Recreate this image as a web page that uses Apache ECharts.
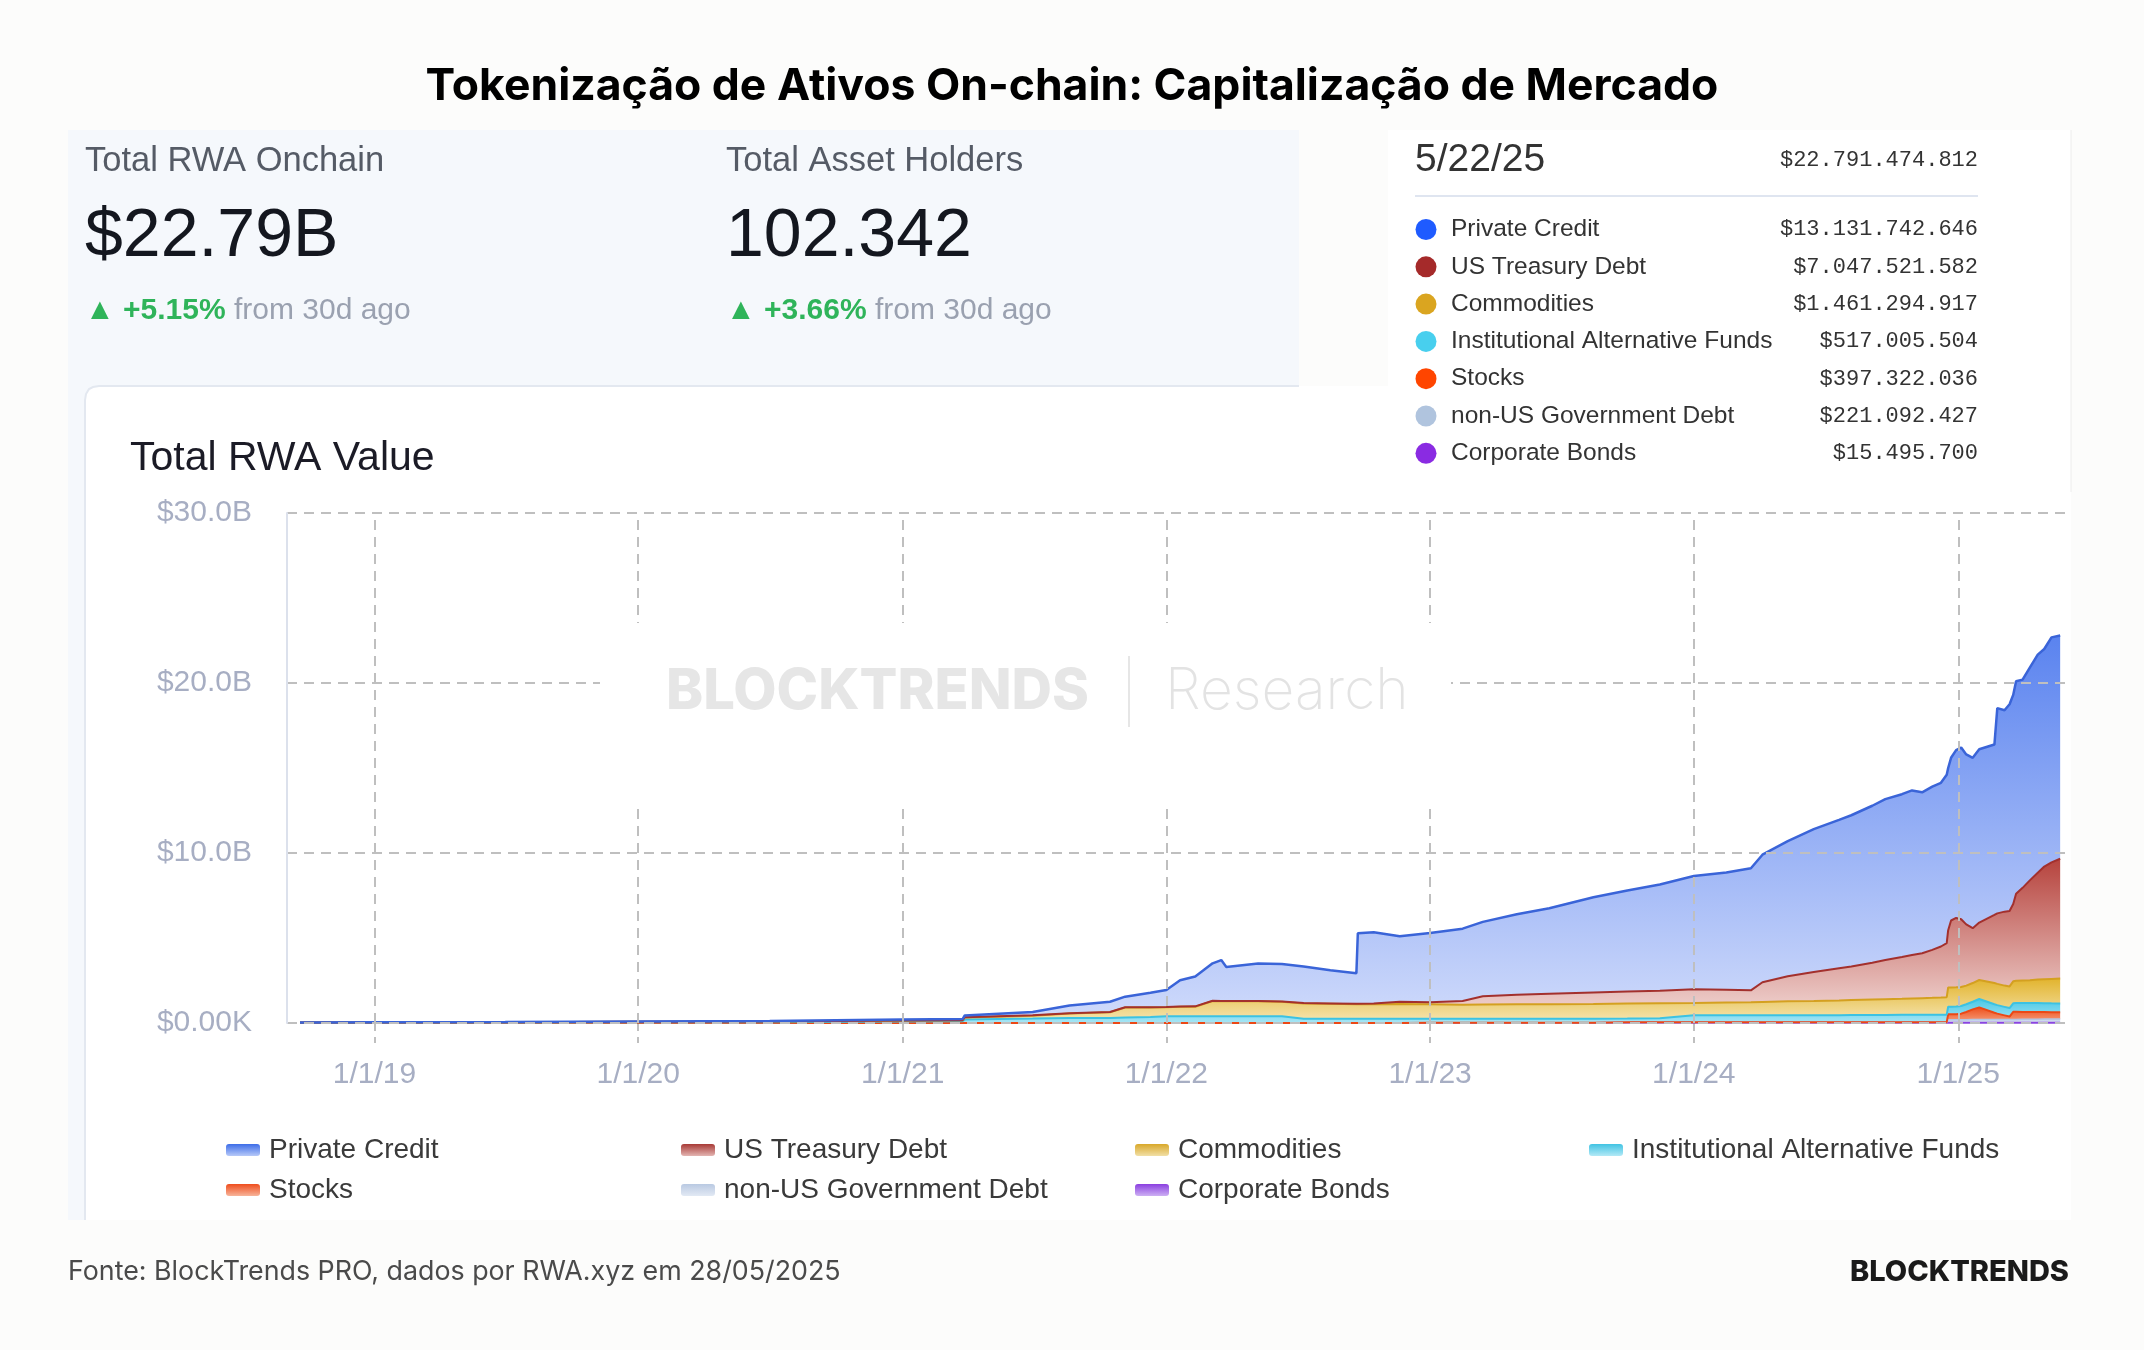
<!DOCTYPE html>
<html>
<head>
<meta charset="utf-8">
<title>Tokenização de Ativos On-chain</title>
<script src="https://cdn.jsdelivr.net/npm/echarts@6/dist/echarts.min.js"></script>
<style>
  html, body { margin: 0; padding: 0; background: #fcfcfb; }
  #main { width: 2144px; height: 1350px; }
</style>
</head>
<body>
<div id="main"></div>
<script>
// datas das amostras
var dates = [
  '2018-09-20','2019-01-01','2019-07-01','2020-01-01','2020-07-01','2020-12-31','2021-03-25','2021-03-28','2021-06-30','2021-08-20',
  '2021-10-15','2021-11-05','2021-12-10','2022-01-01','2022-01-20','2022-02-10','2022-03-06','2022-03-18','2022-03-25','2022-05-08',
  '2022-06-10','2022-07-10','2022-08-16','2022-09-21','2022-09-23','2022-10-15','2022-11-20','2023-01-01','2023-02-15','2023-03-15',
  '2023-05-01','2023-06-15','2023-08-15','2023-10-01','2023-11-15','2024-01-01','2024-02-15','2024-03-20','2024-04-05','2024-05-10',
  '2024-06-15','2024-07-20','2024-08-06','2024-09-04','2024-09-22','2024-10-15','2024-10-29','2024-11-12','2024-11-26','2024-12-08',
  '2024-12-16','2024-12-18','2024-12-22','2024-12-29','2025-01-05','2025-01-12','2025-01-21','2025-01-30','2025-02-20','2025-02-24',
  '2025-03-06','2025-03-13','2025-03-18','2025-03-22','2025-03-31','2025-04-10','2025-04-21','2025-04-30','2025-05-10','2025-05-22'
];

// valores em US$ bilhões (cada camada, não acumulado)
var privateCredit = [
  0, 0.01, 0.01, 0.02, 0.03, 0.06, 0.07, 0.10, 0.20, 0.45,
  0.60, 0.62, 0.85, 1.00, 1.55, 1.75, 2.20, 2.40, 2.00, 2.20,
  2.20, 2.15, 1.95, 1.80, 4.15, 4.20, 3.85, 4.08, 4.25, 4.38,
  4.74, 5.03, 5.60, 5.95, 6.25, 6.67, 6.90, 7.18, 7.50, 7.95,
  8.40, 8.73, 8.90, 9.23, 9.47, 9.58, 9.68, 9.47, 9.60, 9.63,
  9.90, 9.54, 9.57, 9.87, 10.10, 10.00, 10.02, 10.19, 10.02, 12.07,
  11.85, 12.16, 12.30, 12.50, 12.25, 12.51, 12.83, 12.80, 13.24, 13.132
];
var usTreasury = [
  0, 0, 0, 0, 0, 0, 0, 0.02, 0.02, 0.02,
  0.02, 0.02, 0.02, 0.02, 0.02, 0.02, 0.02, 0.02, 0.02, 0.02,
  0.02, 0.02, 0.02, 0.02, 0.02, 0.04, 0.13, 0.12, 0.22, 0.48,
  0.56, 0.61, 0.68, 0.71, 0.74, 0.81, 0.75, 0.70, 1.16, 1.47,
  1.70, 1.89, 1.97, 2.17, 2.30, 2.46, 2.56, 2.64, 2.82, 3.00,
  3.18, 3.37, 3.94, 4.08, 3.98, 3.60, 3.23, 3.38, 4.01, 4.15,
  4.35, 4.44, 4.55, 5.12, 5.45, 5.87, 6.28, 6.62, 6.85, 7.048
];
var commodities = [
  0.01, 0.01, 0.02, 0.03, 0.04, 0.05, 0.06, 0.12, 0.17, 0.26,
  0.33, 0.58, 0.56, 0.52, 0.55, 0.56, 0.89, 0.88, 0.88, 0.88,
  0.85, 0.90, 0.88, 0.86, 0.86, 0.85, 0.87, 0.85, 0.83, 0.84,
  0.85, 0.86, 0.87, 0.88, 0.88, 0.72, 0.75, 0.77, 0.79, 0.82,
  0.84, 0.87, 0.88, 0.91, 0.93, 0.94, 0.96, 0.98, 0.99, 1.01,
  1.03, 1.13, 1.13, 1.13, 1.12, 1.10, 1.10, 1.12, 1.25, 1.25,
  1.25, 1.27, 1.29, 1.30, 1.32, 1.34, 1.39, 1.42, 1.44, 1.461
];
var altFunds = [
  0.02, 0.03, 0.03, 0.04, 0.05, 0.09, 0.10, 0.20, 0.26, 0.30,
  0.30, 0.33, 0.35, 0.40, 0.40, 0.40, 0.40, 0.40, 0.40, 0.40,
  0.40, 0.25, 0.25, 0.25, 0.25, 0.25, 0.25, 0.23, 0.23, 0.23,
  0.23, 0.23, 0.23, 0.22, 0.24, 0.40, 0.40, 0.40, 0.40, 0.41,
  0.41, 0.41, 0.42, 0.42, 0.42, 0.43, 0.43, 0.43, 0.44, 0.44,
  0.44, 0.45, 0.45, 0.45, 0.45, 0.45, 0.45, 0.49, 0.50, 0.50,
  0.50, 0.50, 0.50, 0.52, 0.53, 0.53, 0.53, 0.52, 0.52, 0.517
];
var stocks = [
  0, 0, 0, 0, 0, 0, 0, 0, 0, 0,
  0, 0, 0, 0, 0, 0, 0, 0, 0, 0,
  0, 0, 0, 0, 0, 0, 0, 0.02, 0.02, 0.02,
  0.02, 0.02, 0.02, 0.02, 0.02, 0.02, 0.02, 0.02, 0.02, 0.02,
  0.02, 0.02, 0.02, 0.02, 0.02, 0.02, 0.02, 0.02, 0.02, 0.02,
  0.02, 0.32, 0.32, 0.33, 0.36, 0.46, 0.60, 0.72, 0.39, 0.34,
  0.24, 0.17, 0.45, 0.45, 0.43, 0.43, 0.42, 0.405, 0.40, 0.397
];
var nonUsDebt = [
  0, 0, 0, 0, 0, 0, 0, 0, 0, 0,
  0, 0, 0, 0, 0, 0, 0, 0, 0, 0,
  0, 0, 0, 0, 0, 0, 0, 0, 0, 0,
  0, 0, 0, 0.01, 0.01, 0.02, 0.02, 0.02, 0.02, 0.02,
  0.02, 0.02, 0.02, 0.02, 0.02, 0.02, 0.02, 0.02, 0.02, 0.02,
  0.02, 0.18, 0.18, 0.18, 0.18, 0.18, 0.19, 0.19, 0.20, 0.20,
  0.20, 0.20, 0.20, 0.20, 0.21, 0.21, 0.21, 0.22, 0.22, 0.221
];
var corpBonds = [
  0, 0, 0, 0, 0, 0, 0, 0, 0, 0,
  0, 0, 0, 0, 0, 0, 0, 0, 0, 0,
  0, 0, 0, 0, 0, 0, 0, 0, 0, 0,
  0, 0, 0, 0.01, 0.01, 0.01, 0.01, 0.01, 0.01, 0.01,
  0.01, 0.01, 0.01, 0.01, 0.01, 0.01, 0.01, 0.01, 0.01, 0.01,
  0.01, 0.01, 0.01, 0.01, 0.01, 0.01, 0.01, 0.01, 0.01, 0.01,
  0.01, 0.01, 0.01, 0.01, 0.01, 0.01, 0.01, 0.015, 0.015, 0.0155
];

var yTicks = [0, 10, 20, 30];
var yearTicks = ['2019-01-01', '2020-01-01', '2021-01-01', '2022-01-01', '2023-01-01', '2024-01-01', '2025-01-01'];

// caixa "tooltip" fixa de 5/22/25
var tooltipDate = '5/22/25';
var tooltipTotal = '$22.791.474.812';
var legendOrder = ['Private Credit', 'US Treasury Debt', 'Commodities', 'Institutional Alternative Funds', 'Stocks', 'non-US Government Debt', 'Corporate Bonds'];
var tooltipValues = ['$13.131.742.646', '$7.047.521.582', '$1.461.294.917', '$517.005.504', '$397.322.036', '$221.092.427', '$15.495.700'];

// ordem de empilhamento (de baixo para cima)
var stackOrder = ['Corporate Bonds', 'non-US Government Debt', 'Stocks', 'Institutional Alternative Funds', 'Commodities', 'US Treasury Debt', 'Private Credit'];
var seriesValues = {
  'Private Credit': privateCredit,
  'US Treasury Debt': usTreasury,
  'Commodities': commodities,
  'Institutional Alternative Funds': altFunds,
  'Stocks': stocks,
  'non-US Government Debt': nonUsDebt,
  'Corporate Bonds': corpBonds
};

var look = {
  'Private Credit':                  { line: '#3a64d8', top: '#5a83ef', bottom: '#d0dbfb', width: 2.5, dot: '#1f5bff', icon: ['#3d6de8', '#b7c9f8'] },
  'US Treasury Debt':                { line: '#a3302d', top: '#b6433d', bottom: '#f3dcd9', width: 2,   dot: '#a52a2a', icon: ['#a83a36', '#e3b5b2'] },
  'Commodities':                     { line: '#d4a020', top: '#e2b42e', bottom: '#f6e6b4', width: 2,   dot: '#daa520', icon: ['#d9a82a', '#f1dfa6'] },
  'Institutional Alternative Funds': { line: '#3cc2e2', top: '#4ac8e6', bottom: '#a8e6f5', width: 2,   dot: '#48cfee', icon: ['#41c3e3', '#b3e9f6'] },
  'Stocks':                          { line: '#ec4815', top: '#ee4f1c', bottom: '#f6a281', width: 2,   dot: '#ff4500', icon: ['#ef4d1d', '#f7b49a'] },
  'non-US Government Debt':          { line: '#b4c6e2', top: '#bfcfe8', bottom: '#e2e9f4', width: 1.5, dot: '#b0c4de', icon: ['#b9c9e2', '#e2e9f4'] },
  'Corporate Bonds':                 { line: '#8a45e0', top: '#9b63e8', bottom: '#c9aef3', width: 2,   dot: '#8a2be2', icon: ['#8b3fe0', '#cdb0f3'] }
};

function grad(a, b) {
  return new echarts.graphic.LinearGradient(0, 0, 0, 1, [{ offset: 0, color: a }, { offset: 1, color: b }]);
}

var chart = echarts.init(document.getElementById('main'));

var sansFont = '"Liberation Sans", Arial, sans-serif';
var monoFont = '"Liberation Mono", "DejaVu Sans Mono", monospace';
var gridStroke = { color: '#bfbfbf', width: 2, type: [10, 7] };

var series = stackOrder.map(function (name) {
  var st = look[name];
  var vals = seriesValues[name];
  return {
    name: name,
    type: 'line',
    stack: 'total',
    symbol: 'none',
    showSymbol: false,
    lineStyle: { color: st.line, width: st.width },
    itemStyle: { color: st.line },
    areaStyle: { color: grad(st.top, st.bottom), opacity: 1 },
    emphasis: { disabled: true },
    silent: true,
    data: dates.map(function (d, i) { return [d, vals[i]]; })
  };
});

// linhas verticais de ano por cima das áreas
series[series.length - 1].markLine = {
  silent: true,
  symbol: ['none', 'none'],
  label: { show: false },
  lineStyle: gridStroke,
  emphasis: { disabled: true },
  data: yearTicks.map(function (d) { return { xAxis: +echarts.time.parse(d) }; })
};

// legenda em 4 colunas
var legendCols = [
  { left: 226, names: ['Private Credit', 'Stocks'] },
  { left: 681, names: ['US Treasury Debt', 'non-US Government Debt'] },
  { left: 1135, names: ['Commodities', 'Corporate Bonds'] },
  { left: 1589, names: ['Institutional Alternative Funds'] }
];
var legends = legendCols.map(function (col) {
  return {
    orient: 'vertical',
    left: col.left,
    top: 1135,
    padding: 0,
    itemGap: 10,
    itemWidth: 34,
    itemHeight: 12,
    icon: 'roundRect',
    selectedMode: false,
    itemStyle: { borderWidth: 0 },
    textStyle: { fontFamily: sansFont, fontSize: 28, lineHeight: 30, color: '#3a3a3a', padding: [0, 0, 0, 4] },
    data: col.names.map(function (n) {
      return { name: n, itemStyle: { color: grad(look[n].icon[0], look[n].icon[1]) } };
    })
  };
});

// elementos fixos: fundos, textos, caixa de valores, marca d'água
var g = [];
g.push({ type: 'rect', z: -10, silent: true, shape: { x: 68, y: 130, width: 1231, height: 1090 }, style: { fill: '#f5f8fc' } });
g.push({ type: 'rect', z: -9, silent: true, shape: { x: 85, y: 386, width: 1986, height: 834, r: [14, 0, 0, 0] }, style: { fill: '#ffffff' } });
g.push({ type: 'polyline', z: -8, silent: true, shape: { points: [[85, 1220], [85, 400], [86, 394], [89, 389], [93, 387], [99, 386], [1299, 386]] }, style: { fill: null, stroke: '#e3e8f0', lineWidth: 2 } });
g.push({ type: 'rect', z: -7, silent: true, shape: { x: 1388, y: 130, width: 683, height: 362 }, style: { fill: '#ffffff' } });
g.push({ type: 'line', z: -7, silent: true, shape: { x1: 2071, y1: 130, x2: 2071, y2: 492 }, style: { stroke: '#ececec', lineWidth: 1 } });

function txt(x, y, text, font, fill, align, extra) {
  var el = {
    type: 'text', x: x, y: y, silent: true, z: 20,
    style: { text: text, font: font, fill: fill, textAlign: align || 'left', align: align || 'left', textVerticalAlign: 'middle', verticalAlign: 'middle' }
  };
  if (extra) { for (var k in extra) el.style[k] = extra[k]; }
  return el;
}

// título
g.push(txt(1072, 87, 'Tokenização de Ativos On-chain: Capitalização de Mercado', '700 44.5px Inter', '#000000', 'center'));

// painel de estatísticas
var stats = [
  { x: 85, label: 'Total RWA Onchain', value: '$22.79B', change: '▲ +5.15%' },
  { x: 726, label: 'Total Asset Holders', value: '102.342', change: '▲ +3.66%' }
];
stats.forEach(function (s) {
  g.push(txt(s.x, 161, s.label, '34.5px ' + sansFont, '#555b66'));
  g.push(txt(s.x, 237, s.value, '68px ' + sansFont, '#14171f'));
  g.push(txt(s.x, 311, '{g|' + s.change + '} {s|from 30d ago}', '30px ' + sansFont, '#9aa1b0', 'left', {
    rich: {
      g: { fill: '#2fb45a', font: '600 30px ' + sansFont },
      s: { fill: '#9aa1b0', font: '30px ' + sansFont }
    }
  }));
});

// caixa de valores na data
g.push(txt(1415, 160, tooltipDate, '39px ' + sansFont, '#333333'));
g.push(txt(1978, 160, tooltipTotal, '22px ' + monoFont, '#333333', 'right'));
g.push({ type: 'line', z: 20, silent: true, shape: { x1: 1415, y1: 196, x2: 1978, y2: 196 }, style: { stroke: '#dfe5f0', lineWidth: 2 } });
legendOrder.forEach(function (n, i) {
  var y = 229.5 + i * 37.3;
  g.push({ type: 'circle', z: 20, silent: true, shape: { cx: 1426, cy: y, r: 10.5 }, style: { fill: look[n].dot } });
  g.push(txt(1451, y, n, '24.5px ' + sansFont, '#333333'));
  g.push(txt(1978, y, tooltipValues[i], '22px ' + monoFont, '#333333', 'right'));
});

// título do gráfico
g.push(txt(130, 459, 'Total RWA Value', '41px ' + sansFont, '#1b1b26'));

// marca d'água com fundo branco (interrompe as grades)
g.push({ type: 'rect', z: 50, silent: true, shape: { x: 600, y: 623, width: 851, height: 186 }, style: { fill: '#ffffff' } });
var wm1 = txt(666, 692, 'BLOCKTRENDS', '800 56px Inter', '#e6e6e6', 'left');
wm1.z = 60;
g.push(wm1);
g.push({ type: 'line', z: 60, silent: true, shape: { x1: 1129, y1: 656, x2: 1129, y2: 727 }, style: { stroke: '#e6e6e6', lineWidth: 2 } });
var wm2 = txt(1165, 692, 'Research', '200 57px Inter', '#e3e3e3', 'left');
wm2.z = 60;
g.push(wm2);

// rodapé
g.push(txt(68, 1272, 'Fonte: BlockTrends PRO, dados por RWA.xyz em 28/05/2025', '400 26.8px Inter', '#4a4a4a'));
g.push(txt(2069, 1272, 'BLOCKTRENDS', '800 29px Inter', '#1a1a1a', 'right'));

var option = {
  animation: false,
  backgroundColor: '#fcfcfb',
  grid: { left: 287, right: 73, top: 513, bottom: 327, containLabel: false, outerBoundsMode: 'none' },
  xAxis: {
    type: 'time',
    min: '2018-09-02',
    max: '2025-06-06',
    minInterval: 365 * 24 * 3600 * 1000,
    maxInterval: 366 * 24 * 3600 * 1000,
    axisLine: { show: false },
    axisTick: { show: true, length: 20, lineStyle: { color: '#bfbfbf', width: 2, type: [8, 6] } },
    splitLine: { show: false },
    axisLabel: {
      margin: 37,
      color: '#a7aec3',
      fontFamily: sansFont,
      fontSize: 30,
      showMinLabel: false,
      showMaxLabel: false,
      hideOverlap: false,
      formatter: function (val) {
        var d = new Date(val);
        if (d.getMonth() === 0 && d.getDate() === 1) {
          return '1/1/' + String(d.getFullYear()).slice(2);
        }
        return '';
      }
    }
  },
  yAxis: {
    type: 'value',
    min: yTicks[0],
    max: yTicks[yTicks.length - 1],
    interval: 10,
    z: 5,
    axisLine: { show: true, lineStyle: { color: '#dce1ec', width: 2 } },
    axisTick: { show: false },
    splitLine: { show: true, lineStyle: gridStroke },
    axisLabel: {
      margin: 35,
      color: '#a7aec3',
      fontFamily: sansFont,
      fontSize: 30,
      formatter: function (v) {
        return v === 0 ? '$0.00K' : '$' + v.toFixed(1) + 'B';
      }
    }
  },
  legend: legends,
  graphic: { elements: g },
  series: series
};

chart.setOption(option);
</script>
</body>
</html>
